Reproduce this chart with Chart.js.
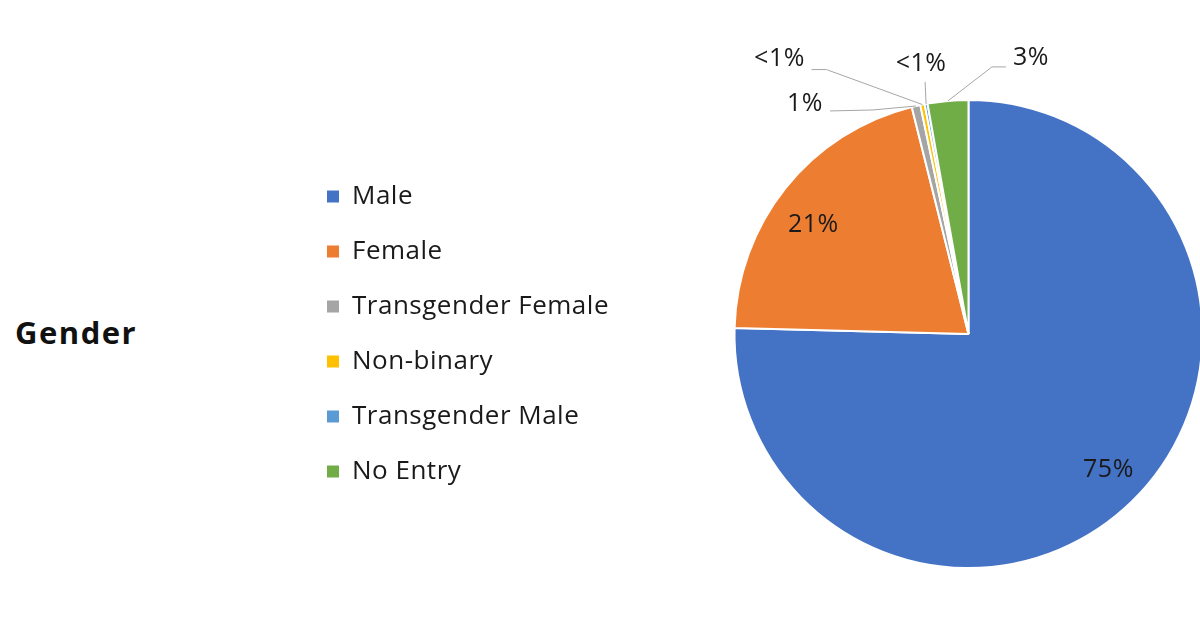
<!DOCTYPE html>
<html>
<head>
<meta charset="utf-8">
<script src="https://cdn.jsdelivr.net/npm/chart.js@4.4.1/dist/chart.umd.min.js"></script>
<style>
  html, body { margin: 0; padding: 0; width: 1200px; height: 617px; overflow: hidden; background: #fff; }
  #title { position: absolute; left: 15px; top: 312px; font-family: "Open Sans", sans-serif; font-weight: 700; font-size: 31px; letter-spacing: 1.5px; color: #111; line-height: 40px; }
  #wrap { position: absolute; left: 298px; top: 26px; width: 1020px; height: 617px; }
</style>
</head>
<body>
<div id="title">Gender</div>
<div id="wrap"><canvas id="c"></canvas></div>
<script>
const categories = ["Male", "Female", "Transgender Female", "Non-binary", "Transgender Male", "No Entry"];
const values = [75.4, 20.7, 0.6, 0.3, 0.2, 2.8];
const colors = ["#4472C4", "#ED7D31", "#A5A5A5", "#FFC000", "#5B9BD5", "#70AD47"];

// label placement style (offsets in px)
const labelStyle = [
  { inside: 0.82, shift: [6, -1] },
  { inside: 0.80, shift: [-9, 8] },
  { label: [-111, -2], path: [[-43, 4], [-86, 5]] },
  { label: [-143, -46], path: [[-96, -35], [-111, -35]] },
  { label: [-5, -40], path: [[-1, -22]] },
  { label: [83, -43], path: [[44, -34], [58, -34]] }
];

function fmt(v) {
  const r = Math.round(v);
  return r < 1 ? "<1%" : r + "%";
}

const spacingPlugin = {
  id: 'letterSpacing',
  beforeUpdate(chart) { chart.ctx.letterSpacing = '0.5px'; },
  beforeDraw(chart) { chart.ctx.letterSpacing = '0.5px'; }
};

const labelPlugin = {
  id: 'sliceLabels',
  afterDatasetsDraw(chart) {
    const ctx = chart.ctx;
    const meta = chart.getDatasetMeta(0);
    ctx.save();
    ctx.font = '25px "Open Sans", sans-serif';
    ctx.fillStyle = '#1a1a1a';
    ctx.textAlign = 'center';
    ctx.textBaseline = 'middle';
    meta.data.forEach((arc, i) => {
      const st = labelStyle[i];
      const p = arc.getProps(['x', 'y', 'startAngle', 'endAngle', 'outerRadius'], true);
      const mid = (p.startAngle + p.endAngle) / 2;
      const txt = fmt(values[i]);
      if (st.inside) {
        const r = p.outerRadius * st.inside;
        ctx.fillText(txt, p.x + Math.cos(mid) * r + st.shift[0], p.y + Math.sin(mid) * r + st.shift[1]);
      } else {
        const ox = p.x + Math.cos(mid) * p.outerRadius;
        const oy = p.y + Math.sin(mid) * p.outerRadius;
        ctx.beginPath();
        ctx.strokeStyle = '#A6A6A6';
        ctx.lineWidth = 1;
        ctx.moveTo(ox, oy);
        st.path.forEach(pt => ctx.lineTo(ox + pt[0], oy + pt[1]));
        ctx.stroke();
        ctx.fillText(txt, ox + st.label[0], oy + st.label[1]);
      }
    });
    ctx.restore();
  }
};

new Chart(document.getElementById('c'), {
  type: 'pie',
  data: {
    labels: categories,
    datasets: [{
      data: values,
      backgroundColor: colors,
      borderColor: '#ffffff',
      borderWidth: 2,
      hoverOffset: 0
    }]
  },
  options: {
    responsive: true,
    maintainAspectRatio: false,
    animation: false,
    layout: { padding: { top: 73, bottom: 74, left: 0, right: 0 } },
    plugins: {
      tooltip: { enabled: false },
      legend: {
        position: 'left',
        labels: {
          boxWidth: 12,
          boxHeight: 12,
          padding: 29,
          color: '#1a1a1a',
          font: { family: '"Open Sans", sans-serif', size: 26 },
          generateLabels(chart) {
            const items = Chart.overrides.pie.plugins.legend.labels.generateLabels(chart);
            items.forEach(it => { it.lineWidth = 0; it.strokeStyle = it.fillStyle; });
            return items;
          }
        }
      }
    }
  },
  plugins: [spacingPlugin, labelPlugin]
});
</script>
</body>
</html>
